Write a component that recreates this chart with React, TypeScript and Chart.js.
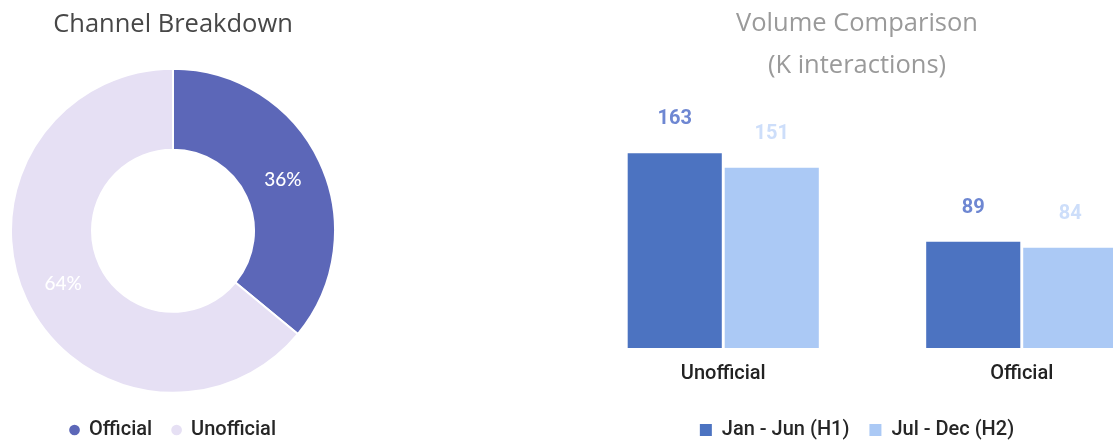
import React, { useEffect, useRef } from "react";
import { Chart, registerables } from "chart.js";

Chart.register(...registerables);

// Donut data
const channelLabels = ["Official", "Unofficial"];
const channelShares = [36, 64];
const channelColors = ["#5c67b8", "#e6e0f4"];

// Bar data
const volumeCategories = ["Unofficial", "Official"];
const seriesNames = ["Jan - Jun (H1)", "Jul - Dec (H2)"];
const h1Values = [163, 89];
const h2Values = [151, 84];
const barColors = ["#4c73c1", "#abc9f5"];
const barLabelColors = ["#6e87d2", "#cddefa"];

const TITLE_FONT = "'Open Sans', sans-serif";
const UI_FONT = "Roboto, sans-serif";

const donutLabelPlugin = {
  id: "donutLabels",
  afterDatasetsDraw(chart: any) {
    const ctx = chart.ctx;
    const meta = chart.getDatasetMeta(0);
    const data = chart.data.datasets[0].data as number[];
    const total = data.reduce((a, b) => a + b, 0);
    ctx.save();
    ctx.font = "500 19px Lato, sans-serif";
    ctx.fillStyle = "#ffffff";
    ctx.textAlign = "center";
    ctx.textBaseline = "middle";
    meta.data.forEach((arc: any, i: number) => {
      const p = arc.tooltipPosition(false);
      ctx.fillText(Math.round((data[i] / total) * 100) + "%", p.x, p.y + 1);
    });
    ctx.restore();
  },
};

const barLabelPlugin = {
  id: "barLabels",
  afterDatasetsDraw(chart: any) {
    const ctx = chart.ctx;
    ctx.save();
    ctx.font = `bold 20px ${UI_FONT}`;
    ctx.textAlign = "center";
    ctx.textBaseline = "middle";
    chart.data.datasets.forEach((ds: any, di: number) => {
      const meta = chart.getDatasetMeta(di);
      ctx.fillStyle = barLabelColors[di];
      meta.data.forEach((bar: any, i: number) => {
        ctx.fillText(String(ds.data[i]), bar.x, bar.y - 34);
      });
    });
    ctx.restore();
  },
};

export default function App() {
  const donutRef = useRef<HTMLCanvasElement>(null);
  const barRef = useRef<HTMLCanvasElement>(null);

  useEffect(() => {
    const donut = new Chart(donutRef.current!, {
      type: "doughnut",
      data: {
        labels: channelLabels,
        datasets: [
          {
            data: channelShares,
            backgroundColor: channelColors,
            borderColor: "#ffffff",
            borderWidth: 2,
          },
        ],
      },
      options: {
        responsive: false,
        animation: false,
        cutout: "50%",
        layout: { padding: 0 },
        plugins: {
          title: {
            display: true,
            text: "Channel Breakdown",
            color: "#474747",
            font: { family: TITLE_FONT, size: 25.5, weight: "normal", lineHeight: 1.2 },
            padding: { top: 9, bottom: 22 },
          },
          legend: {
            position: "bottom",
            labels: {
              usePointStyle: true,
              pointStyle: "circle",
              boxWidth: 9,
              boxHeight: 9,
              padding: 20,
              color: "#262626",
              font: { family: UI_FONT, size: 20, weight: "500" },
            },
          },
          tooltip: { enabled: false },
        },
      },
      plugins: [donutLabelPlugin],
    });

    const bar = new Chart(barRef.current!, {
      type: "bar",
      data: {
        labels: volumeCategories,
        datasets: [
          {
            label: seriesNames[0],
            data: h1Values,
            backgroundColor: barColors[0],
            categoryPercentage: 0.65,
            barPercentage: 0.97,
          },
          {
            label: seriesNames[1],
            data: h2Values,
            backgroundColor: barColors[1],
            categoryPercentage: 0.65,
            barPercentage: 0.97,
          },
        ],
      },
      options: {
        responsive: false,
        animation: false,
        layout: { padding: 0 },
        scales: {
          x: {
            grid: { display: false, drawTicks: false },
            border: { display: false },
            ticks: {
              padding: 14,
              color: "#222222",
              font: { family: UI_FONT, size: 20, weight: "500" },
            },
            afterFit(scale: any) {
              scale.height = 52;
            },
          },
          y: {
            min: 0,
            max: 200,
            grid: { display: false, drawTicks: false },
            border: { display: false },
            ticks: { display: false },
            afterFit(scale: any) {
              scale.width = 31;
            },
          },
        },
        plugins: {
          title: {
            display: true,
            text: ["Volume Comparison", "(K interactions)"],
            color: "#9a9a9a",
            font: { family: TITLE_FONT, size: 25.5, weight: "normal", lineHeight: 1.65 },
            padding: { top: 3, bottom: 22 },
          },
          legend: {
            position: "bottom",
            labels: {
              boxWidth: 12,
              boxHeight: 12,
              padding: 20,
              color: "#262626",
              font: { family: UI_FONT, size: 20, weight: "500" },
            },
          },
          tooltip: { enabled: false },
        },
      },
      plugins: [barLabelPlugin],
    });

    return () => {
      donut.destroy();
      bar.destroy();
    };
  }, []);

  return (
    <div
      style={{
        position: "fixed",
        left: 0,
        top: 0,
        width: 1113,
        height: 442,
        overflow: "hidden",
        background: "#ffffff",
      }}
    >
      <canvas
        ref={donutRef}
        width={326}
        height={450}
        style={{ position: "absolute", left: 10, top: 0, width: 326, height: 450 }}
      />
      <canvas
        ref={barRef}
        width={628}
        height={450}
        style={{ position: "absolute", left: 543, top: 0, width: 628, height: 450 }}
      />
    </div>
  );
}
